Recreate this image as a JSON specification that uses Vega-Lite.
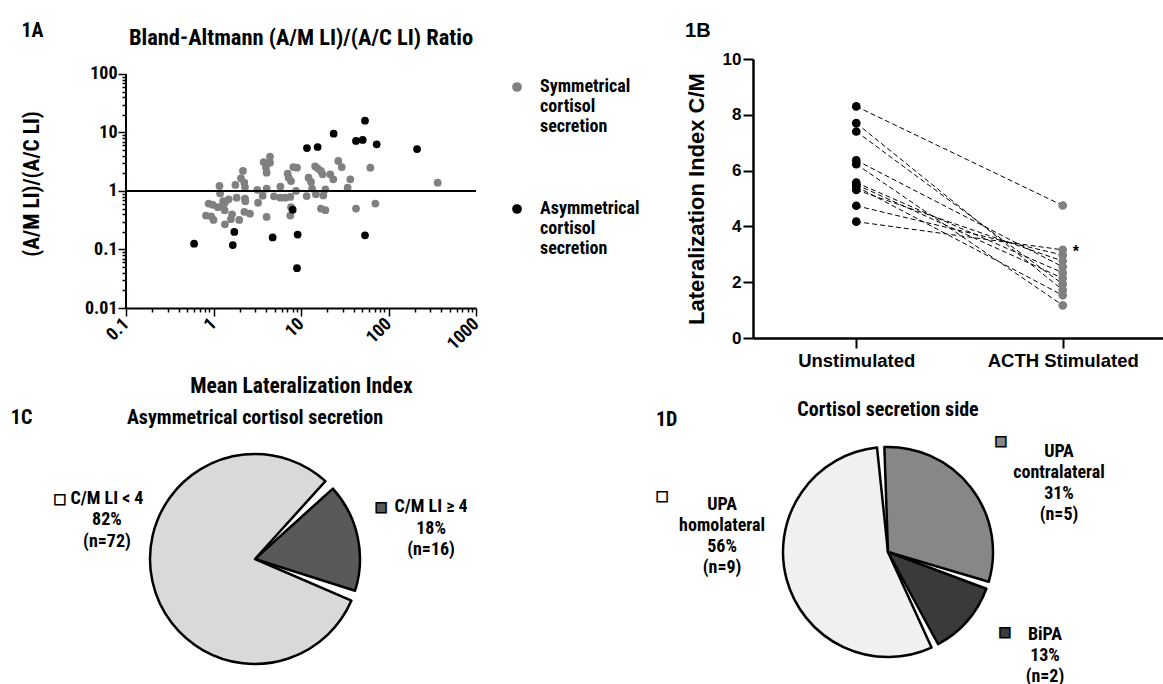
{
 "$schema": "https://vega.github.io/schema/vega-lite/v6.json",
 "background": "white",
 "padding": {"left": 10, "top": 20, "right": 0, "bottom": 0},
 "config": {
  "view": {"stroke": null},
  "font": "Liberation Sans Narrow, Roboto Condensed, Roboto, sans-serif",
  "title": {"fontWeight": "bold", "color": "black"},
  "axis": {"labelColor": "black", "titleColor": "black", "domainColor": "black", "tickColor": "black", "labelFontWeight": "bold", "titleFontWeight": "bold", "grid": false},
  "legend": {"labelColor": "black"}
 },
 "resolve": {"scale": {"color": "independent", "theta": "independent", "x": "independent", "y": "independent"}, "legend": {"color": "independent"}},
 "columns": 1,
 "align": "none",
 "spacing": 2,
 "concat": [
  {
   "columns": 2,
   "align": "none",
   "spacing": 26,
   "resolve": {"scale": {"color": "independent", "theta": "independent", "x": "independent", "y": "independent"}, "legend": {"color": "independent"}},
   "concat": [
    {
     "title": {"text": "1A", "anchor": "start", "frame": "bounds", "offset": -14, "fontSize": 20},
     "vconcat": [
      {
       "width": 350,
       "height": 249,
       "title": {"text": "Bland-Altmann (A/M LI)/(A/C LI) Ratio", "fontSize": 22.5, "offset": 10},
       "data": {"values": [
        {"m": 1.17, "r": 1.22, "g": "Symmetrical cortisol secretion"},
        {"m": 1.19, "r": 0.91, "g": "Symmetrical cortisol secretion"},
        {"m": 0.88, "r": 0.61, "g": "Symmetrical cortisol secretion"},
        {"m": 0.98, "r": 0.58, "g": "Symmetrical cortisol secretion"},
        {"m": 1.12, "r": 0.53, "g": "Symmetrical cortisol secretion"},
        {"m": 1.27, "r": 0.55, "g": "Symmetrical cortisol secretion"},
        {"m": 1.35, "r": 0.63, "g": "Symmetrical cortisol secretion"},
        {"m": 1.49, "r": 0.72, "g": "Symmetrical cortisol secretion"},
        {"m": 1.29, "r": 0.67, "g": "Symmetrical cortisol secretion"},
        {"m": 0.82, "r": 0.38, "g": "Symmetrical cortisol secretion"},
        {"m": 0.94, "r": 0.37, "g": "Symmetrical cortisol secretion"},
        {"m": 1.0, "r": 0.32, "g": "Symmetrical cortisol secretion"},
        {"m": 1.34, "r": 0.47, "g": "Symmetrical cortisol secretion"},
        {"m": 1.63, "r": 0.4, "g": "Symmetrical cortisol secretion"},
        {"m": 1.58, "r": 0.33, "g": "Symmetrical cortisol secretion"},
        {"m": 1.97, "r": 0.32, "g": "Symmetrical cortisol secretion"},
        {"m": 1.35, "r": 0.27, "g": "Symmetrical cortisol secretion"},
        {"m": 1.78, "r": 1.27, "g": "Symmetrical cortisol secretion"},
        {"m": 2.17, "r": 2.2, "g": "Symmetrical cortisol secretion"},
        {"m": 2.06, "r": 1.65, "g": "Symmetrical cortisol secretion"},
        {"m": 2.25, "r": 1.39, "g": "Symmetrical cortisol secretion"},
        {"m": 2.29, "r": 1.17, "g": "Symmetrical cortisol secretion"},
        {"m": 1.84, "r": 0.77, "g": "Symmetrical cortisol secretion"},
        {"m": 2.29, "r": 0.74, "g": "Symmetrical cortisol secretion"},
        {"m": 2.31, "r": 0.67, "g": "Symmetrical cortisol secretion"},
        {"m": 2.25, "r": 0.44, "g": "Symmetrical cortisol secretion"},
        {"m": 2.61, "r": 0.41, "g": "Symmetrical cortisol secretion"},
        {"m": 3.17, "r": 1.05, "g": "Symmetrical cortisol secretion"},
        {"m": 3.23, "r": 0.63, "g": "Symmetrical cortisol secretion"},
        {"m": 3.65, "r": 0.83, "g": "Symmetrical cortisol secretion"},
        {"m": 3.74, "r": 3.13, "g": "Symmetrical cortisol secretion"},
        {"m": 3.98, "r": 2.5, "g": "Symmetrical cortisol secretion"},
        {"m": 4.05, "r": 2.06, "g": "Symmetrical cortisol secretion"},
        {"m": 4.42, "r": 3.86, "g": "Symmetrical cortisol secretion"},
        {"m": 4.42, "r": 3.05, "g": "Symmetrical cortisol secretion"},
        {"m": 4.05, "r": 1.1, "g": "Symmetrical cortisol secretion"},
        {"m": 4.05, "r": 0.36, "g": "Symmetrical cortisol secretion"},
        {"m": 4.91, "r": 0.81, "g": "Symmetrical cortisol secretion"},
        {"m": 5.81, "r": 1.19, "g": "Symmetrical cortisol secretion"},
        {"m": 5.81, "r": 0.77, "g": "Symmetrical cortisol secretion"},
        {"m": 6.62, "r": 0.77, "g": "Symmetrical cortisol secretion"},
        {"m": 7.04, "r": 1.98, "g": "Symmetrical cortisol secretion"},
        {"m": 7.23, "r": 1.69, "g": "Symmetrical cortisol secretion"},
        {"m": 7.69, "r": 1.48, "g": "Symmetrical cortisol secretion"},
        {"m": 7.55, "r": 0.79, "g": "Symmetrical cortisol secretion"},
        {"m": 7.69, "r": 0.53, "g": "Symmetrical cortisol secretion"},
        {"m": 7.55, "r": 0.38, "g": "Symmetrical cortisol secretion"},
        {"m": 8.17, "r": 2.57, "g": "Symmetrical cortisol secretion"},
        {"m": 9.0, "r": 2.5, "g": "Symmetrical cortisol secretion"},
        {"m": 8.77, "r": 1.0, "g": "Symmetrical cortisol secretion"},
        {"m": 11.6, "r": 0.82, "g": "Symmetrical cortisol secretion"},
        {"m": 12.2, "r": 1.69, "g": "Symmetrical cortisol secretion"},
        {"m": 13.0, "r": 1.43, "g": "Symmetrical cortisol secretion"},
        {"m": 13.4, "r": 1.1, "g": "Symmetrical cortisol secretion"},
        {"m": 14.5, "r": 2.64, "g": "Symmetrical cortisol secretion"},
        {"m": 14.8, "r": 0.88, "g": "Symmetrical cortisol secretion"},
        {"m": 15.5, "r": 2.44, "g": "Symmetrical cortisol secretion"},
        {"m": 16.9, "r": 2.2, "g": "Symmetrical cortisol secretion"},
        {"m": 17.7, "r": 1.93, "g": "Symmetrical cortisol secretion"},
        {"m": 18.0, "r": 0.84, "g": "Symmetrical cortisol secretion"},
        {"m": 19.0, "r": 1.07, "g": "Symmetrical cortisol secretion"},
        {"m": 16.9, "r": 0.5, "g": "Symmetrical cortisol secretion"},
        {"m": 19.0, "r": 0.47, "g": "Symmetrical cortisol secretion"},
        {"m": 21.6, "r": 1.93, "g": "Symmetrical cortisol secretion"},
        {"m": 23.4, "r": 1.58, "g": "Symmetrical cortisol secretion"},
        {"m": 26.7, "r": 3.26, "g": "Symmetrical cortisol secretion"},
        {"m": 29.2, "r": 2.57, "g": "Symmetrical cortisol secretion"},
        {"m": 34.1, "r": 1.14, "g": "Symmetrical cortisol secretion"},
        {"m": 36.6, "r": 1.58, "g": "Symmetrical cortisol secretion"},
        {"m": 42.5, "r": 0.5, "g": "Symmetrical cortisol secretion"},
        {"m": 62.0, "r": 2.5, "g": "Symmetrical cortisol secretion"},
        {"m": 70.8, "r": 0.61, "g": "Symmetrical cortisol secretion"},
        {"m": 365, "r": 1.39, "g": "Symmetrical cortisol secretion"},
        {"m": 0.6, "r": 0.126, "g": "Asymmetrical cortisol secretion"},
        {"m": 1.73, "r": 0.2, "g": "Asymmetrical cortisol secretion"},
        {"m": 1.66, "r": 0.119, "g": "Asymmetrical cortisol secretion"},
        {"m": 4.74, "r": 0.161, "g": "Asymmetrical cortisol secretion"},
        {"m": 8.03, "r": 0.48, "g": "Asymmetrical cortisol secretion"},
        {"m": 9.16, "r": 0.18, "g": "Asymmetrical cortisol secretion"},
        {"m": 9.0, "r": 0.048, "g": "Asymmetrical cortisol secretion"},
        {"m": 11.7, "r": 5.43, "g": "Asymmetrical cortisol secretion"},
        {"m": 15.5, "r": 5.65, "g": "Asymmetrical cortisol secretion"},
        {"m": 23.6, "r": 9.55, "g": "Asymmetrical cortisol secretion"},
        {"m": 42.5, "r": 7.16, "g": "Asymmetrical cortisol secretion"},
        {"m": 50.7, "r": 7.45, "g": "Asymmetrical cortisol secretion"},
        {"m": 53.9, "r": 15.9, "g": "Asymmetrical cortisol secretion"},
        {"m": 73.3, "r": 6.28, "g": "Asymmetrical cortisol secretion"},
        {"m": 53.9, "r": 0.175, "g": "Asymmetrical cortisol secretion"},
        {"m": 212, "r": 5.22, "g": "Asymmetrical cortisol secretion"}
       ]},
       "layer": [
        {
         "mark": {"type": "circle", "size": 60, "opacity": 1},
         "encoding": {
          "x": {"field": "m", "type": "quantitative", "scale": {"type": "log", "domain": [0.1, 1000]},
           "axis": {
            "values": [0.1,0.2,0.3,0.4,0.5,0.6,0.7,0.8,0.9,1,2,3,4,5,6,7,8,9,10,20,30,40,50,60,70,80,90,100,200,300,400,500,600,700,800,900,1000],
            "format": "~g",
            "labelExpr": "abs(log(datum.value)/LN10 - round(log(datum.value)/LN10)) < 0.01 ? datum.label : ''",
            "tickSize": {"condition": {"test": "abs(log(datum.value)/LN10 - round(log(datum.value)/LN10)) < 0.01", "value": 8}, "value": 4},
            "tickWidth": 1.5, "domainWidth": 2,
            "labelFontSize": 18, "labelAngle": -45, "labelAlign": "right", "labelBaseline": "middle", "labelPadding": 5,
            "labelFlush": false, "labelOverlap": false, "labelBound": false,
            "title": "Mean Lateralization Index", "titleFontSize": 21.5, "titlePadding": 22
           }},
          "y": {"field": "r", "type": "quantitative", "scale": {"type": "log", "domain": [0.01, 180.4], "nice": false},
           "axis": {
            "values": [0.01,0.02,0.03,0.04,0.05,0.06,0.07,0.08,0.09,0.1,0.2,0.3,0.4,0.5,0.6,0.7,0.8,0.9,1,2,3,4,5,6,7,8,9,10,20,30,40,50,60,70,80,90,100],
            "format": "~g",
            "labelExpr": "abs(log(datum.value)/LN10 - round(log(datum.value)/LN10)) < 0.01 ? datum.label : ''",
            "tickSize": {"condition": {"test": "abs(log(datum.value)/LN10 - round(log(datum.value)/LN10)) < 0.01", "value": 8}, "value": 4},
            "tickWidth": 1.5, "domain": false,
            "labelFontSize": 18, "labelPadding": 1, "labelFlush": false, "labelOverlap": false,
            "title": "(A/M LI)/(A/C LI)", "titleFontSize": 21.5, "titlePadding": 41
           }},
          "color": {"field": "g", "type": "nominal",
           "scale": {"domain": ["Symmetrical cortisol secretion", "Asymmetrical cortisol secretion"], "range": ["#808080", "#000000"]},
           "legend": {"title": null, "orient": "right", "offset": 6, "symbolSize": 95, "symbolType": "circle", "symbolOpacity": 1,
            "labelFontSize": 18, "labelFontWeight": "bold", "labelExpr": "split(datum.label, ' ')", "labelOffset": 14,
            "rowPadding": 64, "labelLimit": 300, "padding": 19}}
         }
        },
        {
         "mark": {"type": "rule", "color": "black", "strokeWidth": 2},
         "encoding": {"y": {"datum": 1}}
        },
        {
         "mark": {"type": "rule", "color": "black", "strokeWidth": 2},
         "encoding": {"x": {"datum": 0.1}, "y": {"datum": 0.01}, "y2": {"datum": 100}}
        }
       ]
      }
     ]
    },
    {
     "title": {"text": "1B", "anchor": "start", "frame": "bounds", "offset": 9, "fontSize": 20, "font": "Liberation Sans"},
     "vconcat": [
      {
       "width": 413,
       "height": 279,
       "data": {"values": [
        {"id": 1, "cond": "Unstimulated", "v": 8.3},
        {"id": 1, "cond": "ACTH Stimulated", "v": 4.75},
        {"id": 2, "cond": "Unstimulated", "v": 7.7},
        {"id": 2, "cond": "ACTH Stimulated", "v": 1.72},
        {"id": 3, "cond": "Unstimulated", "v": 7.4},
        {"id": 3, "cond": "ACTH Stimulated", "v": 1.93},
        {"id": 4, "cond": "Unstimulated", "v": 6.37},
        {"id": 4, "cond": "ACTH Stimulated", "v": 2.55},
        {"id": 5, "cond": "Unstimulated", "v": 6.23},
        {"id": 5, "cond": "ACTH Stimulated", "v": 1.17},
        {"id": 6, "cond": "Unstimulated", "v": 5.57},
        {"id": 6, "cond": "ACTH Stimulated", "v": 2.34},
        {"id": 7, "cond": "Unstimulated", "v": 5.5},
        {"id": 7, "cond": "ACTH Stimulated", "v": 2.14},
        {"id": 8, "cond": "Unstimulated", "v": 5.43},
        {"id": 8, "cond": "ACTH Stimulated", "v": 1.53},
        {"id": 9, "cond": "Unstimulated", "v": 5.31},
        {"id": 9, "cond": "ACTH Stimulated", "v": 2.76},
        {"id": 10, "cond": "Unstimulated", "v": 4.74},
        {"id": 10, "cond": "ACTH Stimulated", "v": 2.97},
        {"id": 11, "cond": "Unstimulated", "v": 4.17},
        {"id": 11, "cond": "ACTH Stimulated", "v": 3.16, "note": "*"}
       ]},
       "encoding": {
        "x": {"field": "cond", "type": "nominal", "sort": ["Unstimulated", "ACTH Stimulated"], "scale": {"type": "point", "padding": 0.5},
         "axis": {"title": null, "labelAngle": 0, "labelFont": "Liberation Sans", "labelFontSize": 18.5, "tickSize": 10, "tickWidth": 2, "domainWidth": 2.5, "labelPadding": 3}},
        "y": {"field": "v", "type": "quantitative", "scale": {"domain": [0, 10], "nice": false},
         "axis": {"values": [0, 2, 4, 6, 8, 10], "title": "Lateralization Index C/M", "titleFont": "Liberation Sans", "titleFontSize": 22,
          "labelFont": "Liberation Sans", "labelFontSize": 17, "tickSize": 10, "tickWidth": 2, "domainWidth": 2.5, "labelPadding": 2, "titlePadding": 14}}
       },
       "layer": [
        {"mark": {"type": "line", "color": "black", "strokeWidth": 1, "strokeDash": [5, 3]}, "encoding": {"detail": {"field": "id", "type": "nominal"}}},
        {"mark": {"type": "circle", "size": 75, "opacity": 1},
         "encoding": {"color": {"field": "cond", "type": "nominal", "scale": {"domain": ["Unstimulated", "ACTH Stimulated"], "range": ["#000000", "#808080"]}, "legend": null}}},
        {"transform": [{"filter": "isValid(datum.note)"}],
         "mark": {"type": "text", "dx": 13, "dy": 2, "fontSize": 16, "font": "Liberation Sans", "fontWeight": "bold", "color": "black"},
         "encoding": {"text": {"field": "note"}}}
       ]
      }
     ]
    }
   ]
  },
  {
   "columns": 2,
   "align": "none",
   "spacing": 187,
   "resolve": {"scale": {"color": "independent", "theta": "independent", "x": "independent", "y": "independent"}, "legend": {"color": "independent"}},
   "concat": [
    {
     "title": {"text": "1C", "orient": "left", "anchor": "end", "frame": "bounds", "angle": 0, "align": "right", "baseline": "top", "offset": 0, "fontSize": 20},
     "vconcat": [
      {
       "width": 258,
       "height": 224,
       "title": {"text": "Asymmetrical cortisol secretion", "fontSize": 20, "offset": 19},
       "data": {"values": [
        {"cat": "C/M LI ≥ 4", "n": 16, "label": "C/M LI ≥ 4\n18%\n(n=16)"},
        {"cat": "C/M LI < 4", "n": 72, "label": "C/M LI < 4\n82%\n(n=72)"}
       ]},
       "encoding": {
        "theta": {"field": "n", "type": "quantitative", "stack": true, "scale": {"range": [0.7854, 7.0686]}},
        "order": {"field": "n", "type": "quantitative", "sort": "ascending"}
       },
       "layer": [
        {"mark": {"type": "arc", "radius": 105, "stroke": "black", "strokeWidth": 2.5, "strokeJoin": "round", "padAngle": 0.1},
         "encoding": {
          "color": {"field": "cat", "type": "nominal", "scale": {"domain": ["C/M LI < 4", "C/M LI ≥ 4"], "range": ["#d9d9d9", "#595959"]}, "legend": null}}},
        {"mark": {"type": "text", "radius": 160,
          "dx": {"expr": "datum.cat === 'C/M LI < 4' ? 8.3 : 19.7"},
          "dy": {"expr": "datum.cat === 'C/M LI < 4' ? -94.1 : -17.9"},
          "fontSize": 18, "fontWeight": "bold", "lineBreak": "\n", "lineHeight": 21.5, "align": "center", "baseline": "middle", "color": "black"},
         "encoding": {"text": {"field": "label", "type": "nominal"}}},
        {"mark": {"type": "text", "radius": 160,
          "dx": {"expr": "datum.cat === 'C/M LI < 4' ? -38.7 : -30.3"},
          "dy": {"expr": "datum.cat === 'C/M LI < 4' ? -94.1 : -17.9"},
          "fill": {"expr": "datum.cat === 'C/M LI < 4' ? 'white' : '#595959'"},
          "fontSize": 13, "font": "DejaVu Sans", "align": "center", "baseline": "middle", "stroke": "black", "strokeWidth": 1.5},
         "encoding": {"text": {"value": "■"}}}
       ]
      }
     ]
    },
    {
     "title": {"text": "1D", "anchor": "start", "frame": "bounds", "offset": -30, "fontSize": 20},
     "vconcat": [
      {
       "width": 210,
       "height": 210,
       "title": {"text": "Cortisol secretion side", "fontSize": 20, "offset": 15},
       "data": {"values": [
        {"cat": "UPA homolateral", "n": 9, "label": "UPA\nhomolateral\n56%\n(n=9)"},
        {"cat": "UPA contralateral", "n": 5, "label": "UPA\ncontralateral\n31%\n(n=5)"},
        {"cat": "BiPA", "n": 2, "label": "BiPA\n13%\n(n=2)"}
       ]},
       "encoding": {
        "theta": {"field": "n", "type": "quantitative", "stack": true, "scale": {"range": [2.6791, 8.9623]}},
        "order": {"field": "n", "type": "quantitative", "sort": "descending"}
       },
       "layer": [
        {"mark": {"type": "arc", "stroke": "black", "strokeWidth": 2.5, "strokeJoin": "round", "padAngle": 0.07},
         "encoding": {
          "color": {"field": "cat", "type": "nominal", "scale": {"domain": ["UPA homolateral", "UPA contralateral", "BiPA"], "range": ["#f0f0f0", "#878787", "#3a3a3a"]}, "legend": null}}},
        {"mark": {"type": "text", "radius": 175,
          "dx": {"expr": "datum.cat === 'UPA homolateral' ? 2.9 : datum.cat === 'BiPA' ? 24.9 : 32.6"},
          "dy": {"expr": "datum.cat === 'UPA homolateral' ? -93 : datum.cat === 'BiPA' ? -31.8 : 7.1"},
          "fontSize": 18, "fontWeight": "bold", "lineBreak": "\n", "lineHeight": 21, "align": "center", "baseline": "middle", "color": "black"},
         "encoding": {"text": {"field": "label", "type": "nominal"}}},
        {"mark": {"type": "text", "radius": 175,
          "dx": {"expr": "datum.cat === 'UPA homolateral' ? -57.1 : datum.cat === 'BiPA' ? -15.1 : -25.4"},
          "dy": {"expr": "datum.cat === 'UPA homolateral' ? -102 : datum.cat === 'BiPA' ? -34.8 : -3.9"},
          "fill": {"expr": "datum.cat === 'UPA homolateral' ? 'white' : datum.cat === 'BiPA' ? '#3a3a3a' : '#878787'"},
          "fontSize": 13, "font": "DejaVu Sans", "align": "center", "baseline": "middle", "stroke": "black", "strokeWidth": 1.5},
         "encoding": {"text": {"value": "■"}}}
       ]
      }
     ]
    }
   ]
  }
 ]
}
